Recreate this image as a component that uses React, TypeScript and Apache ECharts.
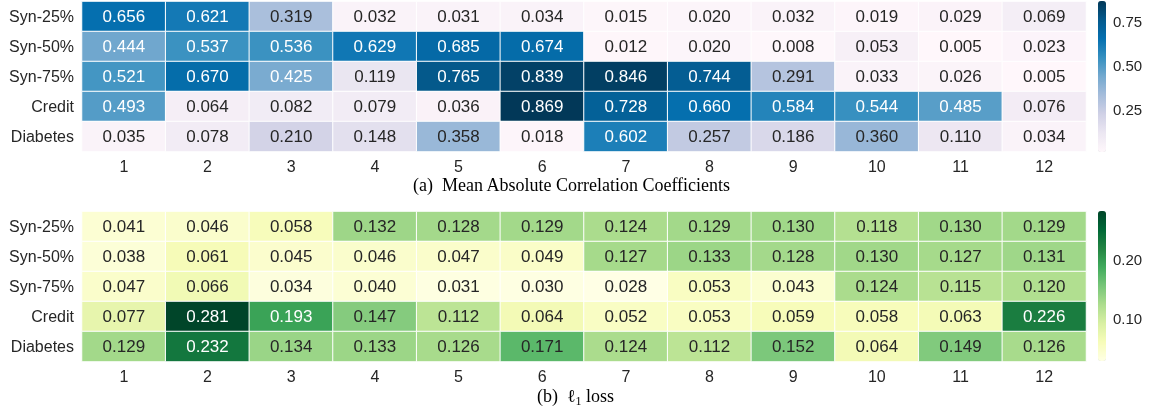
import React, { useEffect, useRef } from "react";
import * as echarts from "echarts";

const rowLabels = ["Syn-25%", "Syn-50%", "Syn-75%", "Credit", "Diabetes"];
const colLabels = ["1", "2", "3", "4", "5", "6", "7", "8", "9", "10", "11", "12"];

const maccSyn25 = [0.656, 0.621, 0.319, 0.032, 0.031, 0.034, 0.015, 0.02, 0.032, 0.019, 0.029, 0.069];
const maccSyn50 = [0.444, 0.537, 0.536, 0.629, 0.685, 0.674, 0.012, 0.02, 0.008, 0.053, 0.005, 0.023];
const maccSyn75 = [0.521, 0.67, 0.425, 0.119, 0.765, 0.839, 0.846, 0.744, 0.291, 0.033, 0.026, 0.005];
const maccCredit = [0.493, 0.064, 0.082, 0.079, 0.036, 0.869, 0.728, 0.66, 0.584, 0.544, 0.485, 0.076];
const maccDiabetes = [0.035, 0.078, 0.21, 0.148, 0.358, 0.018, 0.602, 0.257, 0.186, 0.36, 0.11, 0.034];

const l1Syn25 = [0.041, 0.046, 0.058, 0.132, 0.128, 0.129, 0.124, 0.129, 0.13, 0.118, 0.13, 0.129];
const l1Syn50 = [0.038, 0.061, 0.045, 0.046, 0.047, 0.049, 0.127, 0.133, 0.128, 0.13, 0.127, 0.131];
const l1Syn75 = [0.047, 0.066, 0.034, 0.04, 0.031, 0.03, 0.028, 0.053, 0.043, 0.124, 0.115, 0.12];
const l1Credit = [0.077, 0.281, 0.193, 0.147, 0.112, 0.064, 0.052, 0.053, 0.059, 0.058, 0.063, 0.226];
const l1Diabetes = [0.129, 0.232, 0.134, 0.133, 0.126, 0.171, 0.124, 0.112, 0.152, 0.064, 0.149, 0.126];

const maccTicks = [0.25, 0.5, 0.75];
const l1Ticks = [0.1, 0.2];

const PUBU = ["#fff7fb", "#ece7f2", "#d0d1e6", "#a6bddb", "#74a9cf", "#3690c0", "#0570b0", "#045a8d", "#023858"];
const YLGN = ["#ffffe5", "#f7fcb9", "#d9f0a3", "#addd8e", "#78c679", "#41ab5d", "#238443", "#006837", "#004529"];

const DARK = "#262626";

function build(rows: number[][], whiteFrom: number) {
  const out: any[] = [];
  rows.forEach((row, r) => {
    row.forEach((v, c) => {
      out.push({ value: [c, r, v], label: { color: v >= whiteFrom ? "#ffffff" : DARK } });
    });
  });
  return out;
}

export default function App() {
  const ref = useRef<HTMLDivElement>(null);
  useEffect(() => {
    if (!ref.current) return;
    const chart = echarts.init(ref.current, null, { renderer: "svg" });
    const maccRows = [maccSyn25, maccSyn50, maccSyn75, maccCredit, maccDiabetes];
    const l1Rows = [l1Syn25, l1Syn50, l1Syn75, l1Credit, l1Diabetes];
    const maccAll = maccRows.flat();
    const l1All = l1Rows.flat();
    const mMin = Math.min(...maccAll), mMax = Math.max(...maccAll);
    const lMin = Math.min(...l1All), lMax = Math.max(...l1All);

    const font = "Liberation Sans, Arial, sans-serif";
    const serif = "Liberation Serif, Times New Roman, serif";
    const heatX = (gi: number) => ({
      type: "category",
      gridIndex: gi,
      data: colLabels,
      axisLine: { show: false },
      axisTick: { show: false },
      splitArea: { show: false },
      axisLabel: { color: DARK, fontSize: 16, fontFamily: font, margin: 7 },
    });
    const heatY = (gi: number) => ({
      type: "category",
      gridIndex: gi,
      data: rowLabels,
      inverse: true,
      axisLine: { show: false },
      axisTick: { show: false },
      axisLabel: { color: DARK, fontSize: 16, fontFamily: font, margin: 8 },
    });
    const cbX = (gi: number) => ({ type: "value", gridIndex: gi, show: false });
    const cbY = (gi: number, min: number, max: number, ticks: number[], dec: number) => ({
      type: "value",
      gridIndex: gi,
      min,
      max,
      position: "right",
      axisLine: { show: false },
      splitLine: { show: false },
      axisTick: { show: true, customValues: ticks, length: 4, lineStyle: { color: DARK, width: 1 } },
      axisLabel: {
        show: true,
        customValues: ticks,
        color: DARK,
        fontSize: 15,
        fontFamily: font,
        margin: 7,
        formatter: (v: number) => v.toFixed(dec),
      },
    });

    const cellLabel = { show: true, fontSize: 17, fontFamily: font, formatter: (p: any) => p.value[2].toFixed(3) };

    chart.setOption({
      animation: false,
      graphic: [
        {
          type: "text",
          left: 413,
          top: 176,
          style: {
            text: "(a)  Mean Absolute Correlation Coefficients",
            fontFamily: serif,
            fontSize: 18,
            fill: "#000",
          },
        },
        {
          type: "text",
          left: 537,
          top: 385,
          style: {
            text: "(b)  {l|ℓ}{s|1} loss",
            fontFamily: serif,
            fontSize: 18,
            fill: "#000",
            lineHeight: 22,
            rich: {
              l: { fontFamily: "Liberation Serif, DejaVu Serif, serif", fontSize: 18, fill: "#000", lineHeight: 22 },
              s: { fontFamily: serif, fontSize: 12, fill: "#000", verticalAlign: "bottom", lineHeight: 17 },
            },
          },
        },
      ],
      grid: [
        { left: 82, right: 65, top: 1.5, height: 150 },
        { left: 82, right: 65, top: 211.5, height: 150 },
        { left: 1098, width: 8, top: 1, height: 151 },
        { left: 1098, width: 8, top: 211, height: 150 },
      ],
      xAxis: [heatX(0), heatX(1), cbX(2), cbX(3)],
      yAxis: [heatY(0), heatY(1), cbY(2, mMin, mMax, maccTicks, 2), cbY(3, lMin, lMax, l1Ticks, 2)],
      visualMap: [
        {
          type: "continuous",
          seriesIndex: 0,
          min: mMin,
          max: mMax,
          inRange: { color: PUBU },
          calculable: false,
          realtime: false,
          hoverLink: false,
          padding: 0,
          itemWidth: 8,
          itemHeight: 151,
          left: 1098,
          top: 1,
          text: null,
          showLabel: false,
        },
        {
          type: "continuous",
          seriesIndex: 1,
          min: lMin,
          max: lMax,
          inRange: { color: YLGN },
          calculable: false,
          realtime: false,
          hoverLink: false,
          padding: 0,
          itemWidth: 8,
          itemHeight: 150,
          left: 1098,
          top: 211,
          text: null,
          showLabel: false,
        },
      ],
      series: [
        {
          type: "heatmap",
          xAxisIndex: 0,
          yAxisIndex: 0,
          data: build(maccRows, 0.4),
          label: cellLabel,
          itemStyle: { borderColor: "#ffffff", borderWidth: 1 },
          emphasis: { disabled: true },
        },
        {
          type: "heatmap",
          xAxisIndex: 1,
          yAxisIndex: 1,
          data: build(l1Rows, 0.18),
          label: cellLabel,
          itemStyle: { borderColor: "#ffffff", borderWidth: 1 },
          emphasis: { disabled: true },
        },
      ],
    });
    return () => chart.dispose();
  }, []);
  return <div ref={ref} style={{ position: "fixed", left: 0, top: 0, width: 1151, height: 410 }} />;
}
